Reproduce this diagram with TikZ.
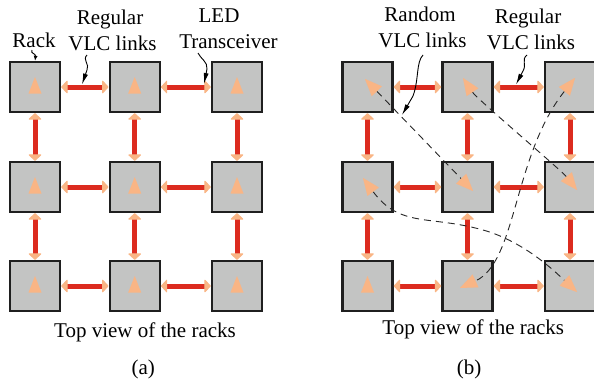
\documentclass[tikz,border=0pt]{standalone}
\usepackage{fontspec}
\setmainfont{Liberation Serif}
\usetikzlibrary{arrows.meta}
\definecolor{peach}{HTML}{F9B585}
\definecolor{rackgray}{HTML}{C3C4C3}
\definecolor{linkred}{HTML}{DC2B1F}
\tikzset{
  LinkHead/.tip={Triangle[length=6.5pt,width=14pt,color=peach,line width=1pt,round]},
  PeachHead/.tip={Triangle[length=17pt,width=14pt,color=peach,line width=0.01pt]},
  CallHead/.tip={Latex[length=11pt,width=5pt]},
}
\begin{document}
\begin{tikzpicture}[x=1pt,y=-1pt,
  rack/.style={draw=black!88, line width=2.4pt, fill=rackgray, minimum size=50pt, inner sep=0pt},
  vlc/.style={draw=linkred, line width=5pt, LinkHead-LinkHead},
  randlink/.style={draw=black!85, line width=0.9pt, dash pattern=on 7pt off 5pt, PeachHead-PeachHead},
  callout/.style={draw=black, line width=0.9pt, -CallHead},
  lbl/.style={font=\fontsize{21}{26}\selectfont, inner sep=0pt, anchor=base},
  cone/.pic={\fill[peach] (0,-10) -- (6.5,6.5) -- (-6.5,6.5) -- cycle;}
]
\useasboundingbox (0,0) rectangle (594,383);

% ---------- panel (a) ----------
\foreach \r/\y in {1/87,2/187,3/286}{
  \foreach \c/\x in {1/35,2/134.7,3/237}{
    \node[rack] (a\r\c) at (\x,\y) {};
    \pic at (\x,\y) {cone};
  }
}
\foreach \r in {1,2,3}{
  \draw[vlc] (a\r1) -- (a\r2);
  \draw[vlc] (a\r2) -- (a\r3);
}
\foreach \c in {1,2,3}{
  \draw[vlc] (a1\c) -- (a2\c);
  \draw[vlc] (a2\c) -- (a3\c);
}

% ---------- panel (b) ----------
\foreach \r/\y in {1/87,2/187,3/286}{
  \foreach \c/\x in {1/367.5,2/467.5,3/570}{
    \node[rack] (b\r\c) at (\x,\y) {};
  }
}
\pic at (367.5,286) {cone};
\foreach \r in {1,2,3}{
  \draw[vlc] (b\r1) -- (b\r2);
  \draw[vlc] (b\r2) -- (b\r3);
}
\foreach \c in {1,2,3}{
  \draw[vlc] (b1\c) -- (b2\c);
  \draw[vlc] (b2\c) -- (b3\c);
}

% random links (tips inside racks)
\coordinate (tA1) at (365,79);  \coordinate (tA2) at (473,191);
\coordinate (tB1) at (463,78);  \coordinate (tB2) at (577,190);
\coordinate (tC1) at (575,78);  \coordinate (tC2) at (460,288);
\coordinate (tD1) at (363,178); \coordinate (tD2) at (577,292);
\coordinate (mD) at (483,230);
\draw[randlink] (tA1) -- (tA2);
\draw[randlink] (tB1) .. controls (477,99) and (561.5,170.5) .. (tB2);
\draw[randlink] (tC1) .. controls (513,156) and (517,262) .. (tC2);
\draw[randlink] (tD1) .. controls (400,228) and (430,215) .. (mD)
                      .. controls (526,242) and (558.5,275) .. (tD2);

% ---------- labels ----------
\node[lbl] (tRack) at (34,47) {Rack};
\node[lbl] (tRegA1) at (110,24) {Regular};
\node[lbl] (tRegA2) at (112.5,50) {VLC links};
\node[lbl] (tLED1) at (219,22) {LED};
\node[lbl] (tLED2) at (228.5,48) {Transceiver};
\node[lbl] (tRand1) at (420,21) {Random};
\node[lbl] (tRand2) at (422.5,47) {VLC links};
\node[lbl] (tRegB1) at (528,23) {Regular};
\node[lbl] (tRegB2) at (531,49) {VLC links};
\node[lbl] (tTopA) at (145,337) {Top view of the racks};
\node[lbl] (tTopB) at (473.3,334) {Top view of the racks};
\node[lbl] (capA) at (143.3,374) {(a)};
\node[lbl] (capB) at (469,374) {(b)};

% ---------- callouts ----------
\coordinate (sRack) at (32,50);
\coordinate (sRegA) at (87,55);   \coordinate (eRegA) at (82,84.5);
\coordinate (sLED) at (198,53);   \coordinate (eLED) at (204,84);
\coordinate (sRand) at (423,55);  \coordinate (eRand) at (402,115);
\coordinate (sRegB) at (527,55);  \coordinate (eRegB) at (516,84.5);
\draw[draw=black, line width=0.9pt, -{Latex[length=5pt,width=4pt]}]
  (sRack) .. controls (30,54) and (36,53) .. (a11.north);
\draw[callout] (sRegA) .. controls (82,60) and (90,64) .. (87,70) -- (eRegA);
\draw[callout] (sLED) .. controls (200,58) and (208,62) .. (207,69) -- (eLED);
\draw[callout] (sRand) .. controls (416,62) and (419,80) .. (413,96) -- (eRand);
\draw[callout] (sRegB) .. controls (521,60) and (527,64) .. (523,71) -- (eRegB);
\end{tikzpicture}
\end{document}
